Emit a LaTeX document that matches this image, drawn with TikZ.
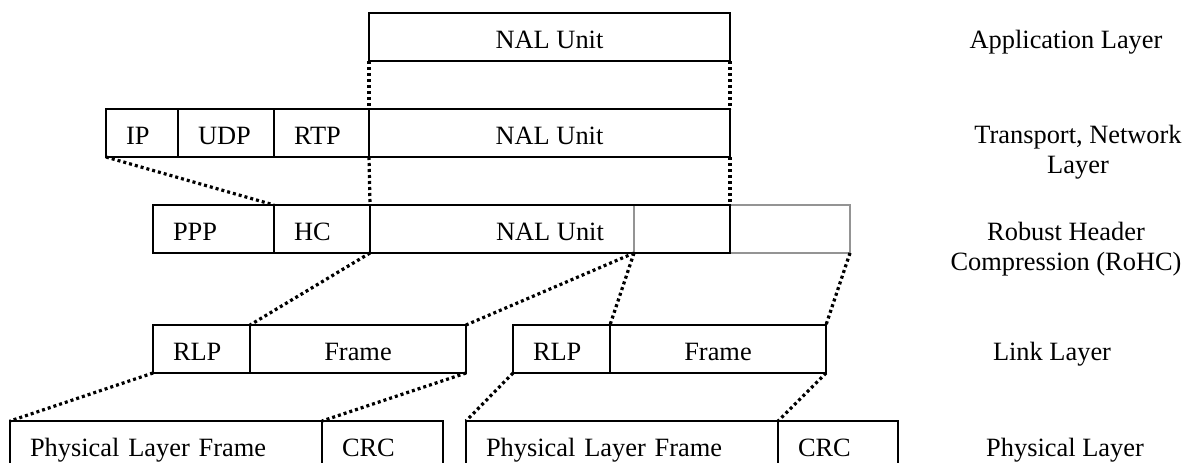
\documentclass[tikz,border=0pt]{standalone}
\usepackage{fontspec}
\setmainfont{Liberation Serif}
\begin{document}
\begin{tikzpicture}[x=1pt, y=-1pt,
  every node/.style={font=\fontsize{26.4}{30}\selectfont},
  cell/.style={draw, line width=2.2pt, minimum height=48pt, inner ysep=0pt,
    outer sep=0pt, text height=22pt, text depth=0pt, anchor=west},
  lcell/.style={cell, inner xsep=20pt, align=left, text width=#1},
  ccell/.style={cell, inner xsep=0pt, minimum width=#1},
  gcell/.style={draw=black!42, line width=2.2pt, minimum height=48pt,
    inner sep=0pt, outer sep=0pt, anchor=west, minimum width=#1},
  dots/.style={line width=3.2pt, dash pattern=on 3pt off 3pt},
  layer/.style={inner sep=0pt, align=center}]
\useasboundingbox (0,0) rectangle (1189,463);
\clip (0,0) rectangle (1189,463);

% application layer
\node[ccell=361pt] (app) at (369,37) {NAL Unit};

% transport / network layer
\node[lcell=32pt]  (ip)   at (106,133) {IP};
\node[lcell=56pt]  (udp)  at (ip.east) {UDP};
\node[lcell=55pt]  (rtp)  at (udp.east) {RTP};
\node[ccell=361pt] (nal2) at (rtp.east) {NAL Unit};

% header compression layer (grey parts first, black on top)
\node[gcell=96pt]  (g1) at (634,229) {};
\node[gcell=120pt] (g2) at (g1.east) {};
\node[lcell=81pt]  (ppp)  at (153,229) {PPP};
\node[lcell=56pt]  (hc)   at (ppp.east) {HC};
\node[ccell=360pt] (nal3) at (hc.east) {NAL Unit};

% link layer
\node[lcell=57pt]  (rlp1) at (153,349) {RLP};
\node[ccell=216pt] (fr1)  at (rlp1.east) {Frame};
\node[lcell=57pt]  (rlp2) at (513,349) {RLP};
\node[ccell=216pt] (fr2)  at (rlp2.east) {Frame};

% physical layer
\node[lcell=272pt] (phy1) at (10,445) {Physical Layer Frame};
\node[lcell=81pt]  (crc1) at (phy1.east) {CRC};
\node[lcell=272pt] (phy2) at (466,445) {Physical Layer Frame};
\node[lcell=80pt]  (crc2) at (phy2.east) {CRC};

% mapping between layers
\draw[dots] (app.south west) -- (nal2.north west);
\draw[dots] (app.south east) -- (nal2.north east);
\draw[dots] (nal2.south west) -- (nal3.north west);
\draw[dots] (nal2.south east) -- (nal3.north east);
\draw[dots] (ip.south west) -- (hc.north west);
\draw[dots] (nal3.south west) -- (fr1.north west);
\draw[dots] (g1.south west) -- (fr1.north east);
\draw[dots] (g1.south west) -- (fr2.north west);
\draw[dots] (g2.south east) -- (fr2.north east);
\draw[dots] (rlp1.south west) -- (phy1.north west);
\draw[dots] (fr1.south east) -- (crc1.north west);
\draw[dots] (rlp2.south west) -- (phy2.north west);
\draw[dots] (fr2.south east) -- (crc2.north west);

% layer names
\node[layer, anchor=base] (lapp) at (1066,48) {Application Layer};
\node[layer] (ltrans) at (1078,152) {Transport, Network\\Layer};
\node[layer] (lrohc) at (1066,249) {Robust Header\\Compression (RoHC)};
\node[layer, anchor=base] (llink) at (1052,360) {Link Layer};
\node[layer, anchor=base] (lphy) at (1065,456) {Physical Layer};
\end{tikzpicture}
\end{document}
